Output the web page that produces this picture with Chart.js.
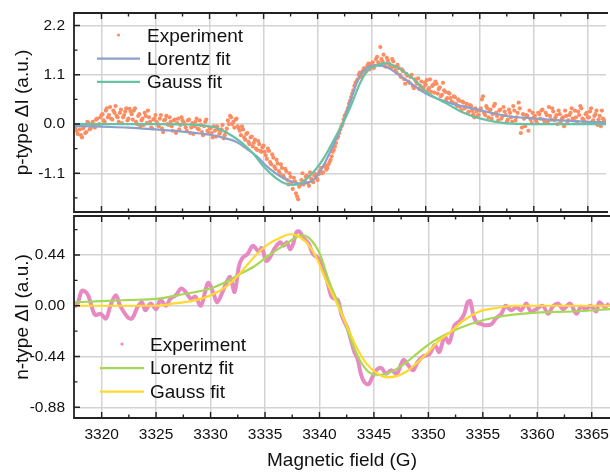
<!DOCTYPE html>
<html><head><meta charset="utf-8">
<script src="https://cdn.jsdelivr.net/npm/chart.js@4/dist/chart.umd.min.js"></script>
<style>
html,body{margin:0;padding:0;background:#fff;width:610px;height:473px;overflow:hidden}
#cA{position:absolute;left:0;top:0}
#cB{position:absolute;left:0;top:214px}
</style></head><body>
<canvas id="cA" width="610" height="216"></canvas>
<canvas id="cB" width="610" height="259"></canvas>
<script>
// ---------- DATA ----------
const fieldMin = 3317.46, fieldMax = 3366.68;
const xTickStep = 5;
const pTickStep = 1.1, nTickStep = 0.44;

// p-type experiment, scan A: every 0.2 G starting at 3317.6 G
const pExpStartA = 3317.6, pExpStep = 0.2;
const pExpYA = [
 -0.08,-0.22,-0.12,-0.30,-0.05,-0.18,0.02,-0.10,0.05,-0.08,0.12,0.00,0.20,
 0.08,0.30,0.15,0.38,0.10,0.25,0.18,0.05,0.32,0.15,0.28,0.08,0.34,
 0.22,0.30,0.05,0.18,-0.05,0.12,0.25,0.02,0.15,-0.08,0.10,0.20,
 0.00,0.12,-0.10,0.08,0.18,-0.02,0.05,-0.15,0.10,0.02,-0.12,0.15,0.04,
 -0.08,0.08,-0.20,0.02,-0.05,0.12,-0.12,-0.02,-0.25,0.05,-0.15,-0.08,
 -0.20,-0.05,-0.28,-0.12,-0.18,-0.02,-0.25,-0.10,0.00,0.15,0.05,0.10,-0.05,
 -0.15,-0.05,-0.30,-0.22,-0.40,-0.30,-0.50,-0.35,-0.58,-0.45,-0.62,-0.48,
 -0.70,-0.55,-0.85,-0.68,-0.95,-0.80,-1.05,-0.90,-1.15,-1.00,-1.25,-1.10,-1.30,
 -1.20,-1.55,-1.68,-1.35,-1.10,-1.28,-1.15,-1.38,-1.22,-1.30,-1.12,-1.25,
 -1.05,-1.10,-0.95,-1.02,-0.90,-0.80,-0.62,-0.50,-0.32,-0.20,-0.05,0.10,0.22,
 0.35,0.52,0.68,0.85,0.95,1.10,1.05,1.20,1.15,1.30,1.22,1.35,
 1.25,1.45,1.38,1.72,1.40,1.30,1.48,1.35,1.25,1.40,1.20,1.32,1.10,
 1.22,1.00,1.12,0.95,1.05,0.85,1.00,0.90,0.78,0.95,0.82,0.88,
 0.75,1.00,0.85,0.70,0.90,0.78,0.62,0.92,0.72,0.58,0.68,0.50,0.62,
 0.45,0.55,0.38,0.50,0.35,0.45,0.28,0.40,0.22,0.35,0.18,0.30,
 0.55,0.25,0.40,0.15,0.32,0.22,0.45,0.18,0.30,0.12,0.38,0.20,0.10,
 0.25,0.05,0.30,0.15,0.48,-0.20,0.22,-0.05,0.18,0.30,0.02,0.15,
 0.08,0.25,0.12,0.32,0.05,0.20,0.38,0.10,0.28,0.15,0.00,0.22,0.12,
 -0.05,0.18,0.08,0.25,0.12,0.30,0.05,0.20,0.35,0.10,0.22,0.15,
 0.28,0.05,0.18,0.30,0.10,-0.05,0.12,0.02
];
// p-type experiment, scan B: every 0.2 G starting at 3317.7 G
const pExpStartB = 3317.7;
const pExpYB = [
 -0.15,-0.02,-0.25,-0.10,-0.20,0.05,-0.12,0.00,-0.05,0.10,-0.02,0.15,
 0.22,0.05,0.35,0.20,0.12,0.30,0.40,0.15,0.25,0.02,0.20,0.35,0.12,
 0.28,0.10,0.35,0.00,0.22,0.08,-0.02,0.18,0.30,0.05,-0.10,0.12,
 0.05,-0.05,0.20,-0.18,0.10,0.00,0.15,-0.05,0.08,-0.20,0.12,-0.02,0.08,
 0.00,-0.15,0.10,-0.08,-0.22,0.05,-0.10,0.08,-0.18,-0.05,0.10,-0.20,
 -0.10,-0.30,-0.15,-0.05,-0.22,-0.12,-0.32,-0.18,0.08,0.18,0.00,-0.08,0.12,
 -0.10,-0.25,-0.12,-0.35,-0.20,-0.45,-0.28,-0.42,-0.55,-0.38,-0.60,-0.52,
 -0.62,-0.78,-0.60,-0.90,-0.75,-1.00,-0.88,-1.10,-0.98,-1.20,-1.05,-1.35,-1.18,
 -1.45,-1.28,-1.62,-1.40,-1.25,-1.35,-1.18,-1.32,-1.08,-1.28,-1.15,-1.20,
 -1.12,-0.98,-1.08,-0.92,-0.98,-0.85,-0.72,-0.58,-0.42,-0.28,-0.12,0.00,0.18,
 0.28,0.45,0.60,0.75,0.92,1.00,1.15,1.10,1.25,1.18,1.35,1.28,
 1.38,1.30,1.50,1.32,1.45,1.55,1.28,1.42,1.30,1.45,1.28,1.15,1.25,
 1.05,1.18,0.90,1.08,0.92,1.10,0.80,0.95,1.02,0.85,0.75,0.92,
 0.98,0.80,0.72,0.88,0.95,0.68,0.82,0.65,0.75,0.55,0.70,0.58,0.48,
 0.60,0.40,0.52,0.30,0.48,0.38,0.25,0.42,0.30,0.15,0.28,0.20,
 0.35,0.62,0.20,0.35,0.28,0.12,0.40,0.25,0.08,0.32,0.18,0.28,0.05,
 0.32,0.15,0.40,0.08,0.25,0.35,-0.08,0.12,0.20,-0.15,0.10,0.25,
 0.18,0.02,0.22,0.30,0.10,0.25,0.05,0.18,0.35,0.08,0.20,0.30,0.05,
 0.15,0.30,0.02,0.20,0.35,0.08,0.15,0.28,0.40,0.12,0.05,0.25,
 0.15,0.35,0.08,0.22,-0.02,0.18,0.30,0.08
];

const pLorX = [3317.5,3320,3322.5,3325,3327.5,3330,3331.5,3332.5,3333.6,3334.5,3335.1,3336,3336.7,3337.5,3338.4,3339.2,3339.7,3340.6,3341.6,3342.3,3343.1,3343.9,3344.6,3345.4,3346.3,3347.4,3348.9,3350.1,3352,3355,3357.5,3360,3362.5,3365,3366.7];
const pLorY = [-0.04,-0.06,-0.08,-0.12,-0.17,-0.24,-0.32,-0.40,-0.58,-0.75,-0.90,-1.08,-1.19,-1.28,-1.33,-1.30,-1.23,-0.90,-0.39,0.00,0.57,1.08,1.26,1.31,1.28,1.12,0.86,0.67,0.49,0.31,0.18,0.125,0.08,0.05,0.04];

const pGauX = [3317.5,3320,3325,3328,3330,3331,3332,3333,3334,3335,3336,3337,3337.7,3338.5,3339,3339.7,3340.6,3341.6,3342.3,3343.1,3343.9,3344.6,3345.4,3346.3,3347.4,3348.9,3350.1,3352,3353.5,3355,3357.5,3360,3366.7];
const pGauY = [0.00,0.00,0.00,-0.01,-0.05,-0.12,-0.25,-0.42,-0.65,-0.95,-1.18,-1.33,-1.36,-1.32,-1.22,-1.05,-0.75,-0.31,0.00,0.42,0.90,1.19,1.30,1.36,1.26,1.00,0.71,0.45,0.25,0.125,0.015,0.00,0.00];

const nExpX = [3317.5,3317.8,3318.2,3318.7,3319.0,3319.4,3319.9,3320.4,3320.8,3321.3,3321.7,3322.4,3322.8,3323.3,3323.7,3324.0,3324.5,3325.0,3325.4,3325.9,3326.3,3326.8,3327.3,3327.7,3328.2,3328.6,3329.1,3329.5,3329.8,3330.3,3330.6,3331.1,3331.5,3331.8,3332.2,3332.6,3332.9,3333.4,3333.9,3334.4,3334.7,3335.1,3335.4,3335.9,3336.4,3336.7,3337.0,3337.3,3337.6,3337.9,3338.2,3338.5,3339.0,3339.4,3339.9,3340.2,3340.5,3340.8,3341.1,3341.4,3341.7,3342.0,3342.3,3342.6,3342.9,3343.2,3343.5,3343.8,3344.1,3344.5,3344.8,3345.2,3345.7,3346.1,3346.6,3347.1,3347.7,3348.1,3348.6,3349.0,3349.5,3350.1,3350.6,3351.0,3351.5,3351.9,3352.4,3352.9,3353.3,3353.6,3353.85,3354.1,3354.4,3354.9,3355.3,3355.8,3356.2,3356.7,3357.1,3357.6,3358.1,3358.5,3359.0,3359.4,3359.9,3360.5,3361.0,3361.4,3361.9,3362.4,3363.0,3363.6,3364.0,3364.5,3364.9,3365.4,3365.7,3366.2,3366.6];
const nExpY = [-0.01,0.02,0.13,0.10,0.02,-0.08,-0.07,-0.11,0.00,0.09,0.00,-0.10,-0.11,-0.01,0.03,-0.04,0.02,-0.03,0.05,0.00,0.06,0.09,0.15,0.12,0.06,0.08,0.00,0.12,0.20,0.10,0.03,0.12,0.21,0.25,0.12,0.34,0.41,0.45,0.52,0.47,0.50,0.39,0.41,0.50,0.55,0.52,0.55,0.49,0.54,0.64,0.64,0.59,0.54,0.45,0.41,0.36,0.29,0.18,0.08,0.06,0.05,-0.07,-0.14,-0.20,-0.30,-0.40,-0.46,-0.59,-0.66,-0.68,-0.63,-0.56,-0.54,-0.59,-0.56,-0.59,-0.47,-0.51,-0.56,-0.49,-0.44,-0.42,-0.34,-0.40,-0.27,-0.32,-0.17,-0.13,-0.07,0.03,0.04,-0.07,-0.14,-0.16,-0.17,-0.16,-0.11,-0.07,0.00,-0.04,-0.01,-0.04,0.02,-0.05,-0.03,0.00,-0.07,-0.01,0.02,-0.03,0.02,-0.07,-0.01,-0.03,0.00,-0.05,0.03,-0.01,0.02];

const nLorX = [3317.5,3320,3322.5,3325,3327.5,3330,3331.5,3333,3334,3335.4,3336.5,3337.3,3338,3338.5,3339,3339.7,3340.2,3340.6,3341.1,3341.6,3342.2,3342.8,3343.7,3344.6,3345.5,3346.4,3347.7,3348.9,3350.1,3352,3353.8,3356.2,3359.9,3363.3,3366.7];
const nLorY = [0.03,0.04,0.05,0.06,0.10,0.15,0.21,0.29,0.34,0.44,0.51,0.56,0.60,0.61,0.59,0.51,0.41,0.29,0.16,0.05,-0.10,-0.27,-0.47,-0.58,-0.60,-0.58,-0.51,-0.42,-0.33,-0.23,-0.16,-0.10,-0.06,-0.05,-0.03];

const nGauX = [3317.5,3322.5,3325,3326.7,3328.2,3330,3331.5,3332.7,3333.6,3334.5,3335.4,3336.4,3337.3,3337.9,3338.8,3339.7,3340.6,3341.6,3342.5,3343.4,3344.3,3345.2,3346.1,3347.1,3348,3348.9,3350.1,3351,3352,3353.2,3354.7,3356.2,3357.8,3366.7];
const nGauY = [0.00,0.00,0.00,0.02,0.04,0.09,0.17,0.28,0.38,0.47,0.54,0.59,0.62,0.61,0.55,0.42,0.22,0.02,-0.17,-0.36,-0.50,-0.58,-0.62,-0.61,-0.57,-0.50,-0.39,-0.30,-0.23,-0.13,-0.05,-0.02,0.00,0.00];

const pYRange = [-1.965, 2.48];
const nYRange = [-0.973, 0.778];
const labels = ['Experiment','Lorentz fit','Gauss fit'];
// ---------- END DATA ----------

const pair = (xs, ys) => xs.map((x,i)=>({x, y: ys[i]}));
const pExp = pExpYA.map((y,i)=>({x: pExpStartA + i*pExpStep, y}))
  .concat(pExpYB.map((y,i)=>({x: pExpStartB + i*pExpStep, y})));

const FONT = '"Liberation Sans", Arial, Helvetica, sans-serif';
Chart.defaults.font.family = FONT;
Chart.defaults.color = '#111';

const frame = {
  id: 'frame',
  afterDraw(chart, args, o) {
    const {ctx, chartArea: a, scales: {x, y}} = chart;
    ctx.save();
    ctx.strokeStyle = '#222';
    ctx.lineWidth = 1.8;
    ctx.beginPath();
    ctx.moveTo(a.right + 2, a.top); ctx.lineTo(a.left, a.top);
    ctx.lineTo(a.left, a.bottom); ctx.lineTo(a.right + 2, a.bottom);
    ctx.stroke();
    ctx.lineWidth = 1.4;
    const xt = x.ticks.map(t => t.value);
    const xMinor = [];
    xt.forEach(v => { xMinor.push(v + xTickStep/2); });
    if (xt.length) xMinor.push(xt[0] - xTickStep/2);
    ctx.beginPath();
    const tickX = (v, len) => {
      const px = x.getPixelForValue(v);
      if (px <= a.left + 1 || px > a.right) return;
      ctx.moveTo(px, a.top); ctx.lineTo(px, a.top + len);
      ctx.moveTo(px, a.bottom); ctx.lineTo(px, a.bottom - len);
    };
    xt.forEach(v => tickX(v, 6));
    xMinor.forEach(v => tickX(v, 3.5));
    const ys = o.step;
    const yt = y.ticks.map(t => t.value);
    const tickY = (v, len) => {
      const py = y.getPixelForValue(v);
      if (py <= a.top + 1 || py >= a.bottom - 1) return;
      ctx.moveTo(a.left, py); ctx.lineTo(a.left + len, py);
    };
    yt.forEach(v => tickY(v, 6));
    yt.forEach(v => { tickY(v + ys/2, 3.5); });
    if (yt.length) tickY(yt[0] - ys/2, 3.5);
    ctx.stroke();
    ctx.restore();
  }
};

const legendIn = {
  id: 'legendIn',
  afterDraw(chart, args, o) {
    const {ctx, chartArea: a} = chart;
    const ds = chart.data.datasets;
    ctx.save();
    ctx.font = '19px ' + FONT;
    ctx.textBaseline = 'middle';
    ds.forEach((d, i) => {
      const yy = a.top + o.y + i * o.dy;
      const x0 = a.left + o.x;
      if (d.legendType === 'dot') {
        ctx.beginPath();
        ctx.fillStyle = d.pointBackgroundColor || d.borderColor;
        ctx.arc(x0 + o.len/2, yy - 0.5, 1.6, 0, Math.PI*2);
        ctx.fill();
      } else {
        ctx.strokeStyle = d.borderColor;
        ctx.lineWidth = 2.2;
        ctx.beginPath();
        ctx.moveTo(x0, yy); ctx.lineTo(x0 + o.len, yy);
        ctx.stroke();
      }
      ctx.fillStyle = '#111';
      ctx.fillText(d.label, x0 + o.len + o.gap, yy + 1);
    });
    ctx.restore();
  }
};

function zeroPad(s) { s.paddingTop = 0; s.paddingBottom = 0; s.paddingLeft = 0; s.paddingRight = 0; }

function makeOpts(yRange, step, decimals, title, showX, padding, legendPos) {
  return {
    responsive: false,
    animation: false,
    devicePixelRatio: 1,
    layout: {padding},
    plugins: {
      legend: {display: false},
      tooltip: {enabled: false},
      frame: {step},
      legendIn: legendPos
    },
    elements: {line: {cubicInterpolationMode: 'monotone'}},
    scales: {
      x: {
        type: 'linear', min: fieldMin, max: fieldMax,
        grid: {color: '#d3d3d3', lineWidth: 1.5, drawTicks: false},
        border: {display: false},
        ticks: {display: showX, stepSize: xTickStep, includeBounds: false, maxRotation: 0, autoSkip: false,
                padding: 7, font: {size: 15.5}, color: '#111',
                callback: v => String(v)},
        title: {display: showX, text: 'Magnetic field (G)', font: {size: 19}, color: '#111', padding: {top: 0, bottom: 1}},
        afterFit: s => { s.height = showX ? 55 : 0; zeroPad(s); }
      },
      y: {
        type: 'linear', min: yRange[0], max: yRange[1],
        grid: {color: '#d3d3d3', lineWidth: 1.5, drawTicks: false},
        border: {display: false},
        ticks: {stepSize: step, includeBounds: false, padding: 9, font: {size: 15.5}, color: '#111',
                callback: v => (Math.abs(v) < 1e-9 ? 0 : v).toFixed(decimals)},
        title: {display: true, text: title, font: {size: 19}, color: '#111', padding: {top: 11.5, bottom: 0}},
        afterFit: s => { s.width = 74; zeroPad(s); }
      }
    }
  };
}

new Chart(document.getElementById('cA'), {
  type: 'scatter',
  data: {datasets: [
    {label: labels[0], data: pExp, legendType: 'dot', showLine: false, pointRadius: 2.1, pointBorderWidth: 0,
     pointBackgroundColor: '#FC8D62', borderColor: '#FC8D62', order: 2},
    {label: labels[1], data: pair(pLorX, pLorY), showLine: true, pointRadius: 0, borderWidth: 2.2,
     borderColor: '#8DA0CB', order: 1},
    {label: labels[2], data: pair(pGauX, pGauY), showLine: true, pointRadius: 0, borderWidth: 2.2,
     borderColor: '#66C2A5', order: 0}
  ]},
  options: makeOpts(pYRange, pTickStep, 1, 'p-type \u0394I (a.u.)', false, {top: 13, right: 0, bottom: 1, left: 0},
    {x: 23, y: 22.5, dy: 23.2, len: 43, gap: 7}),
  plugins: [frame, legendIn]
});

new Chart(document.getElementById('cB'), {
  type: 'scatter',
  data: {datasets: [
    {label: labels[0], data: pair(nExpX, nExpY), legendType: 'dot', showLine: true, pointRadius: 0, borderWidth: 4,
     tension: 0.35, cubicInterpolationMode: 'default',
     pointBackgroundColor: '#E78AC3', borderColor: '#E78AC3', order: 2},
    {label: labels[1], data: pair(nLorX, nLorY), showLine: true, pointRadius: 0, borderWidth: 2.2,
     borderColor: '#A6D854', order: 1},
    {label: labels[2], data: pair(nGauX, nGauY), showLine: true, pointRadius: 0, borderWidth: 2.2,
     borderColor: '#FFD92F', order: 0}
  ]},
  options: makeOpts(nYRange, nTickStep, 2, 'n-type \u0394I (a.u.)', true, {top: 2, right: 0, bottom: 0, left: 0},
    {x: 26, y: 128.5, dy: 23.6, len: 44, gap: 6}),
  plugins: [frame, legendIn]
});
</script>
</body></html>
